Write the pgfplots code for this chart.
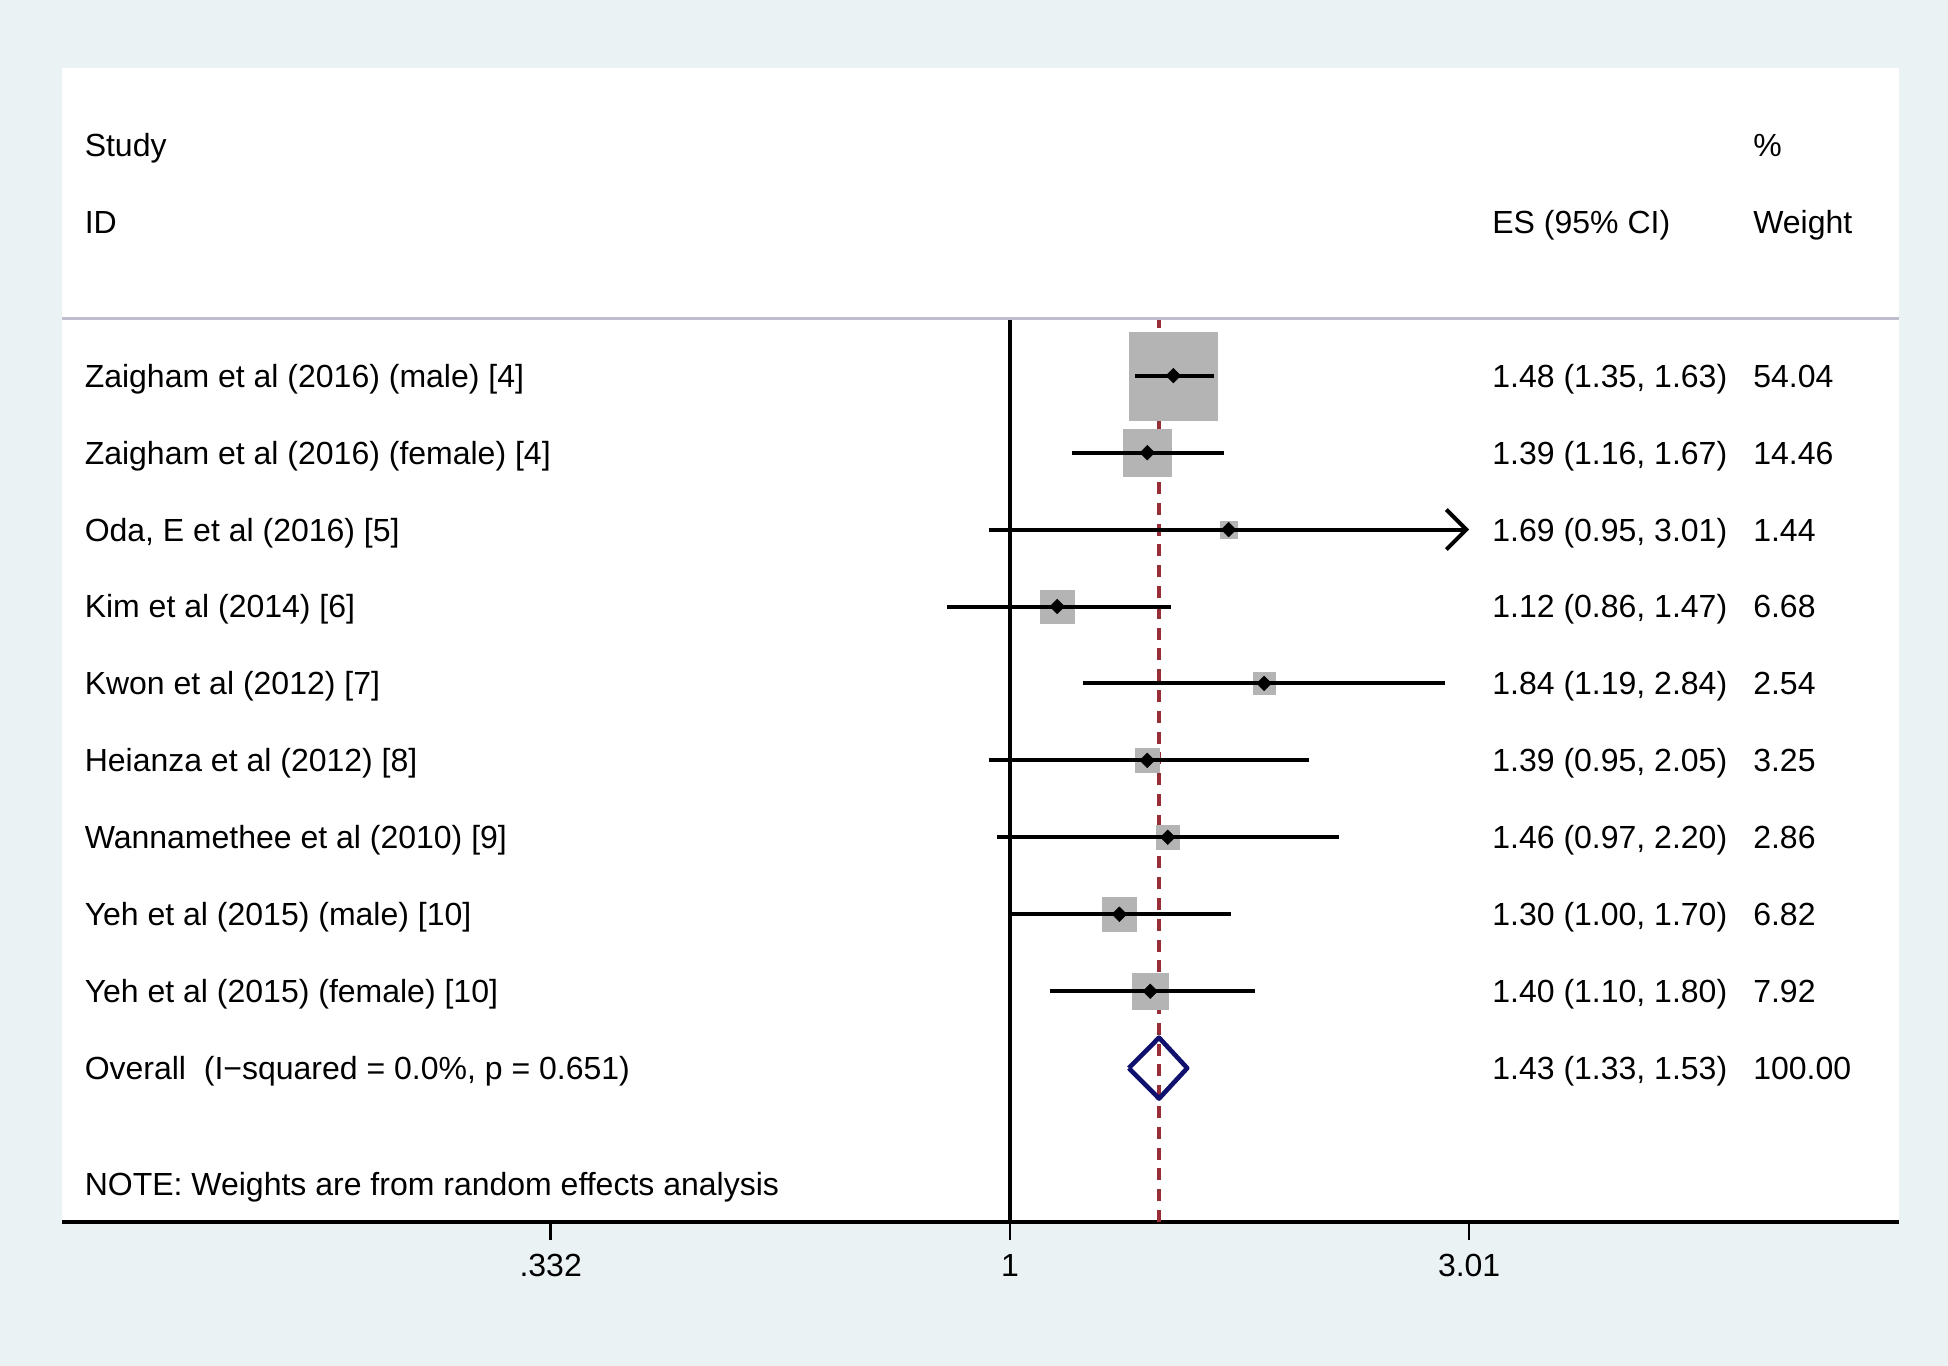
\documentclass[border=0pt]{standalone}
\usepackage{pgfplots}
\pgfplotsset{compat=1.18}
\usepackage{pgfplotstable}
\usepackage{fontspec}
\setmainfont{Liberation Sans}
\usetikzlibrary{arrows.meta}
\definecolor{bgcol}{RGB}{234,242,243}
\definecolor{boxgray}{RGB}{180,180,180}
\definecolor{refred}{RGB}{150,45,55}
\definecolor{navyd}{RGB}{16,16,110}
\definecolor{sepcol}{RGB}{190,190,204}

% es lo hi weight row
\pgfplotstableread{
es lo hi w y
1.48 1.35 1.63 54.04 11
1.39 1.16 1.67 14.46 10
1.69 0.95 3.01 1.44 9
1.12 0.86 1.47 6.68 8
1.84 1.19 2.84 2.54 7
1.39 0.95 2.05 3.25 6
1.46 0.97 2.20 2.86 5
1.30 1.00 1.70 6.82 4
1.40 1.10 1.80 7.92 3
}\studies

\begin{document}
\begin{tikzpicture}[font=\fontsize{8}{9.6}\selectfont,
  txt/.style={anchor=base west, yshift=-2.86pt, inner sep=0pt}]
\fill[bgcol] (0,0) rectangle (487pt,341.5pt);
\begin{axis}[
  at={(15.5pt,36pt)}, anchor=south west,
  scale only axis, width=459.25pt, height=288.5pt,
  xmode=log, xmin=0.10273, xmax=8.446, ymin=0, ymax=15,
  axis background/.style={fill=white},
  axis x line=bottom, axis y line=none,
  x axis line style={-, line width=1pt},
  xtick={0.332,1,3.01}, xticklabels={.332,1,3.01},
  tick align=outside, major tick length=4.5pt,
  xtick style={black, line width=0.6pt},
  ytick=\empty,
  ticklabel style={font=\fontsize{8}{9.6}\selectfont},
  clip=false, clip marker paths=true,
]
% reference lines
\addplot[refred, line width=0.85pt, dash pattern=on 3pt off 2.2pt] coordinates {(1.43,0) (1.43,11.74)};
\addplot[black, line width=0.85pt] coordinates {(1,0) (1,11.74)};
\draw[sepcol, line width=0.75pt] (rel axis cs:0,0.7827) -- (rel axis cs:1,0.7827);

% weight boxes
\addplot[scatter, only marks, mark=square*,
  scatter/use mapped color={draw=boxgray, fill=boxgray},
  mark options={line width=0.1pt},
  visualization depends on={\thisrow{w} \as \wt},
  scatter/@pre marker code/.append style={/tikz/mark size={10.5*sqrt(\wt/54.04)+0.5}}]
  table[x=es, y=y] {\studies};

% confidence intervals
\addplot[black, line width=1pt] coordinates {(1.35,11) (1.63,11)};
\addplot[black, line width=1pt] coordinates {(1.16,10) (1.67,10)};
\addplot[black, line width=1pt, -{Straight Barb[length=5pt, width=10pt, line width=1pt]}] coordinates {(0.95,9) (3.01,9)};
\addplot[black, line width=1pt] coordinates {(0.86,8) (1.47,8)};
\addplot[black, line width=1pt] coordinates {(1.19,7) (2.84,7)};
\addplot[black, line width=1pt] coordinates {(0.95,6) (2.05,6)};
\addplot[black, line width=1pt] coordinates {(0.97,5) (2.20,5)};
\addplot[black, line width=1pt] coordinates {(1.00,4) (1.70,4)};
\addplot[black, line width=1pt] coordinates {(1.10,3) (1.80,3)};

% point estimates
\addplot[only marks, mark=square*, mark size=1.3pt, mark options={rotate=45, line width=0.1pt}, black] table[x=es, y=y] {\studies};

% overall diamond
\addplot[navyd, line width=1.15pt, line join=round] coordinates {(1.33,2) (1.43,2.396) (1.53,2) (1.43,1.604) (1.33,2)};

% text columns
\node[txt] at (axis cs:0.10829,14) {Study};
\node[txt] at (axis cs:0.10829,13) {ID};
\node[txt] at (axis cs:3.1767,13) {ES (95\% CI)};
\node[txt] at (axis cs:5.942,14) {\%};
\node[txt] at (axis cs:5.942,13) {Weight};

\node[txt] at (axis cs:0.10829,11) {Zaigham et al (2016) (male) [4]};
\node[txt] at (axis cs:0.10829,10) {Zaigham et al (2016) (female) [4]};
\node[txt] at (axis cs:0.10829,9) {Oda, E et al (2016) [5]};
\node[txt] at (axis cs:0.10829,8) {Kim et al (2014) [6]};
\node[txt] at (axis cs:0.10829,7) {Kwon et al (2012) [7]};
\node[txt] at (axis cs:0.10829,6) {Heianza et al (2012) [8]};
\node[txt] at (axis cs:0.10829,5) {Wannamethee et al (2010) [9]};
\node[txt] at (axis cs:0.10829,4) {Yeh et al (2015) (male) [10]};
\node[txt] at (axis cs:0.10829,3) {Yeh et al (2015) (female) [10]};
\node[txt] at (axis cs:0.10829,2) {Overall\ \ (I−squared = 0.0\%, p = 0.651)};
\node[txt] at (axis cs:0.10829,0.49) {NOTE: Weights are from random effects analysis};

\node[txt] at (axis cs:3.1767,11) {1.48 (1.35, 1.63)};
\node[txt] at (axis cs:3.1767,10) {1.39 (1.16, 1.67)};
\node[txt] at (axis cs:3.1767,9) {1.69 (0.95, 3.01)};
\node[txt] at (axis cs:3.1767,8) {1.12 (0.86, 1.47)};
\node[txt] at (axis cs:3.1767,7) {1.84 (1.19, 2.84)};
\node[txt] at (axis cs:3.1767,6) {1.39 (0.95, 2.05)};
\node[txt] at (axis cs:3.1767,5) {1.46 (0.97, 2.20)};
\node[txt] at (axis cs:3.1767,4) {1.30 (1.00, 1.70)};
\node[txt] at (axis cs:3.1767,3) {1.40 (1.10, 1.80)};
\node[txt] at (axis cs:3.1767,2) {1.43 (1.33, 1.53)};

\node[txt] at (axis cs:5.942,11) {54.04};
\node[txt] at (axis cs:5.942,10) {14.46};
\node[txt] at (axis cs:5.942,9) {1.44};
\node[txt] at (axis cs:5.942,8) {6.68};
\node[txt] at (axis cs:5.942,7) {2.54};
\node[txt] at (axis cs:5.942,6) {3.25};
\node[txt] at (axis cs:5.942,5) {2.86};
\node[txt] at (axis cs:5.942,4) {6.82};
\node[txt] at (axis cs:5.942,3) {7.92};
\node[txt] at (axis cs:5.942,2) {100.00};
\end{axis}
\end{tikzpicture}
\end{document}
